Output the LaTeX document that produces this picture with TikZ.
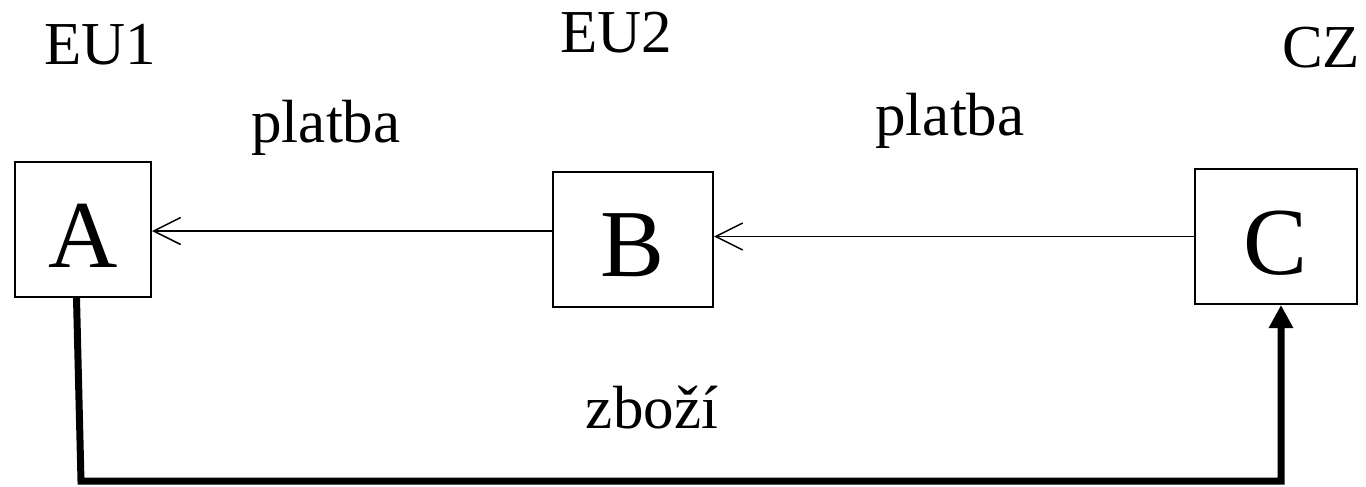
\documentclass[tikz,border=0pt]{standalone}
\usepackage{fontspec}
\setmainfont{Liberation Serif}
\usetikzlibrary{arrows.meta,positioning}

\begin{document}
\begin{tikzpicture}[
    x=1pt, y=-1pt,
    party/.style={rectangle, draw, line width=2pt, inner sep=0pt, minimum height=135pt,
      text height=76pt, font=\fontsize{96}{110}\selectfont},
    tag/.style={inner sep=0pt, anchor=base, font=\fontsize{61}{70}\selectfont},
    pay/.style={-{Straight Barb[length=27pt, width=27pt, line width=1.5pt]}, line width=1.5pt},
    goods/.style={-{Triangle[length=23pt, width=23pt]}, line width=7pt, line join=miter}
]
\useasboundingbox (0,0) rectangle (1366,487);

% the three firms
\node[party, minimum width=136pt] (A) at (83,229.5) {A};
\node[party, minimum width=160pt] (B) at (633,239) {B};
\node[party, minimum width=162pt] (C) at (1276,236.5) {C};

% countries
\node[tag] (eu1) at (100,65) {EU1};
\node[tag] (eu2) at (616,53) {EU2};
\node[tag] (cz) at (1321,67) {CZ};

% flows
\node[tag] (pay1) at (326,142) {platba};
\node[tag] (pay2) at (950,135) {platba};
\node[tag] (goods) at (652,428) {zboží};

\draw[pay] ([yshift=8pt]B.west) -- ([yshift=8pt]B.west -| A.east);
\draw[pay] (C.west) -- (C.west -| B.east);
\draw[goods] ([xshift=-6.5pt]A.south) -- ++(4.5,183) -| ([xshift=5pt]C.south);
\end{tikzpicture}
\end{document}
